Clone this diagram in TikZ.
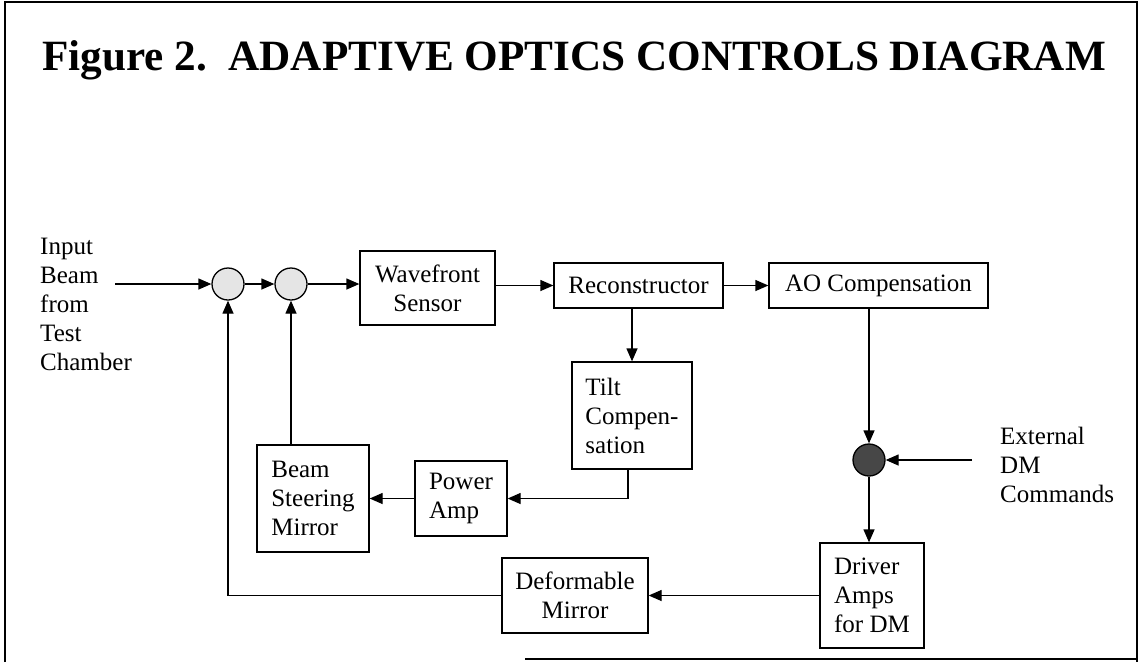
\documentclass[tikz,border=0pt]{standalone}
\usepackage{fontspec}
\setmainfont{Liberation Serif}
\usetikzlibrary{arrows.meta,calc}
\begin{document}
\begin{tikzpicture}[x=1pt,y=-1pt,
  box/.style={draw, line width=1.3pt, inner sep=0pt, align=center, font=\fontsize{25}{29}\selectfont},
  lbox/.style={box, align=left},
  sumlt/.style={circle, draw, line width=1.3pt, fill=black!10, minimum size=32pt, inner sep=0pt},
  sumdk/.style={circle, draw, line width=1.3pt, fill=black!72, minimum size=32pt, inner sep=0pt},
  conn/.style={line width=1.3pt, -{Triangle[length=13pt,width=11pt]}},
  lbl/.style={inner sep=0pt, font=\fontsize{25}{29}\selectfont, align=left},
  frame/.style={line width=1.5pt}
]
\useasboundingbox (0,0) rectangle (1139,662);
% frame
\draw[frame] (5,662) -- (5,2) -- (1137,2) -- (1137,662);
\draw[frame] (525,659) -- (1137,659);

% title
\node[anchor=base west, inner sep=0pt, font=\fontsize{43.2}{50}\selectfont\bfseries] (title) at (42,70)
  {Figure 2.\ \ ADAPTIVE OPTICS CONTROLS DIAGRAM};

% input
\node[lbl, anchor=north west] (inlbl) at (40,238) {Input\\Beam\\from\\Test\\Chamber};
\coordinate (inbeg) at (115,284);

\node[sumlt] (c1) at (228,284) {};
\node[sumlt] (c2) at (291,284) {};

\node[box, minimum width=135pt, minimum height=74pt] (wfs) at (427.5,288) {Wavefront\\Sensor};
\node[box, minimum width=169pt, minimum height=45pt] (rec) at (638.5,285.5) {Reconstructor};
\node[box, minimum width=219pt, minimum height=45pt] (ao) at (878.5,285.5) {AO Compensation};
\node[lbox, minimum width=120pt, minimum height=107pt] (tilt) at (632,415.5) {Tilt\\Compen-\\sation};
\node[lbox, minimum width=92pt, minimum height=75pt] (pa) at (461,498.5) {Power\\Amp};
\node[lbox, minimum width=112pt, minimum height=107pt] (bsm) at (313,498.5) {Beam\\Steering\\Mirror};

\node[sumdk] (cd) at (869,460) {};
\coordinate (ext) at (972,460);
\node[lbl, anchor=north west] (extlbl) at (1000,427) {External\\DM\\Commands};

\node[lbox, minimum width=104pt, minimum height=105pt] (drv) at (872,595.5) {Driver\\Amps\\for DM};
\node[box, minimum width=146pt, minimum height=75pt] (dm) at (575,595.5) {Deformable\\Mirror};

% connectors
\draw[conn] (inbeg) -- (c1);
\draw[conn] (c1) -- (c2);
\draw[conn] (c2) -- (wfs.west |- c2);
\draw[conn] (wfs.east |- rec) -- (rec.west);
\draw[conn] (rec) -- (ao);
\draw[conn] (tilt.north |- rec.south) -- (tilt.north);
\draw[conn] ([xshift=-4pt]tilt.south) |- (pa.east);
\draw[conn] (pa) -- (bsm);
\draw[conn] (bsm.north -| c2) -- (c2);
\draw[conn] (ao.south -| cd) -- (cd);
\draw[conn] (ext) -- (cd);
\draw[conn] (cd) -- (cd |- drv.north);
\draw[conn] (drv) -- (dm);
\draw[conn] (dm.west) -| (c1);
\end{tikzpicture}
\end{document}
